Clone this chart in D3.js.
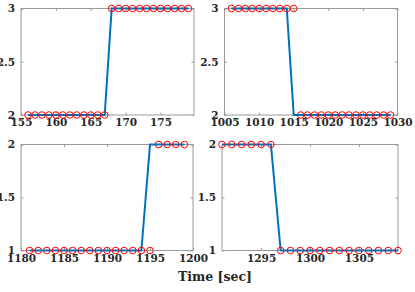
<!DOCTYPE html>
<html>
<head>
<meta charset="utf-8">
<script src="https://cdn.jsdelivr.net/npm/d3@7"></script>
<style>
  body { margin: 0; background: #fff; }
  svg { display: block; }
  .tick text { font-family: "DejaVu Serif", serif; font-weight: bold; font-size: 10.5px; fill: #262626; }
</style>
</head>
<body>
<div id="chart"></div>
<script>
// 時刻と値 (サブプロットごと)
const time1 = [156, 157, 158, 159, 160, 161, 162, 163, 164, 165, 166, 167, 168, 169, 170, 171, 172, 173, 174, 175, 176, 177, 178, 179];
const line1 = [2, 2, 2, 2, 2, 2, 2, 2, 2, 2, 2, 2, 3, 3, 3, 3, 3, 3, 3, 3, 3, 3, 3, 3];
const marks1 = [2, 2, 2, 2, 2, 2, 2, 2, 2, 2, 2, 2, 3, 3, 3, 3, 3, 3, 3, 3, 3, 3, 3, 3];

const time2 = [1006, 1007, 1008, 1009, 1010, 1011, 1012, 1013, 1014, 1015, 1016, 1017, 1018, 1019, 1020, 1021, 1022, 1023, 1024, 1025, 1026, 1027, 1028, 1029];
const line2 = [3, 3, 3, 3, 3, 3, 3, 3, 3, 2, 2, 2, 2, 2, 2, 2, 2, 2, 2, 2, 2, 2, 2, 2];
const marks2 = [3, 3, 3, 3, 3, 3, 3, 3, 3, 3, 2, 2, 2, 2, 2, 2, 2, 2, 2, 2, 2, 2, 2, 2];

const time3 = [1181, 1182, 1183, 1184, 1185, 1186, 1187, 1188, 1189, 1190, 1191, 1192, 1193, 1194, 1195, 1196, 1197, 1198, 1199];
const line3 = [1, 1, 1, 1, 1, 1, 1, 1, 1, 1, 1, 1, 1, 1, 2, 2, 2, 2, 2];
const marks3 = [1, 1, 1, 1, 1, 1, 1, 1, 1, 1, 1, 1, 1, 1, 1, 2, 2, 2, 2];

const time4 = [1291, 1292, 1293, 1294, 1295, 1296, 1297, 1298, 1299, 1300, 1301, 1302, 1303, 1304, 1305, 1306, 1307, 1308, 1309];
const line4 = [2, 2, 2, 2, 2, 2, 1, 1, 1, 1, 1, 1, 1, 1, 1, 1, 1, 1, 1];
const marks4 = [2, 2, 2, 2, 2, 2, 1, 1, 1, 1, 1, 1, 1, 1, 1, 1, 1, 1, 1];

// 軸範囲と目盛り
const xDomain1 = [155, 179.8];
const xDomain2 = [1005, 1030];
const xDomain3 = [1180, 1200];
const xDomain4 = [1291, 1309];
const xTicks1 = [155, 160, 165, 170, 175];
const xTicks2 = [1005, 1010, 1015, 1020, 1025, 1030];
const xTicks3 = [1180, 1185, 1190, 1195, 1200];
const xTicks4 = [1295, 1300, 1305];
const yTicksTop = [2, 2.5, 3];
const yTicksBottom = [1, 1.5, 2];

// svg領域設定
const svgWidth = 415;
const svgHeight = 292;
const svg = d3.select('#chart')
  .append('svg')
  .attr('width', svgWidth)
  .attr('height', svgHeight);

const panels = [
  { time: time1, line: line1, marks: marks1, xDomain: xDomain1, xTicks: xTicks1, yDomain: [2, 3], yTicks: yTicksTop,
    box: { left: 21, right: 194, top: 8.5, bottom: 115 } },
  { time: time2, line: line2, marks: marks2, xDomain: xDomain2, xTicks: xTicks2, yDomain: [2, 3], yTicks: yTicksTop,
    box: { left: 224.5, right: 397.5, top: 8.5, bottom: 115 } },
  { time: time3, line: line3, marks: marks3, xDomain: xDomain3, xTicks: xTicks3, yDomain: [1, 2], yTicks: yTicksBottom,
    box: { left: 21, right: 193, top: 144.5, bottom: 250.5 } },
  { time: time4, line: line4, marks: marks4, xDomain: xDomain4, xTicks: xTicks4, yDomain: [1, 2], yTicks: yTicksBottom,
    box: { left: 222, right: 398, top: 144.5, bottom: 250.5 } }
];

panels.forEach(p => {
  const b = p.box;
  const x = d3.scaleLinear().domain(p.xDomain).range([b.left, b.right]);
  const y = d3.scaleLinear().domain(p.yDomain).range([b.bottom, b.top]);
  const g = svg.append('g');

  // 枠
  g.append('rect')
    .attr('x', b.left).attr('y', b.top)
    .attr('width', b.right - b.left).attr('height', b.bottom - b.top)
    .attr('fill', 'none').attr('stroke', '#9a9a9a').attr('stroke-width', 1);

  // x軸 (下) と上側の目盛り
  const fmt = d => String(d);
  g.append('g')
    .attr('transform', `translate(0,${b.bottom})`)
    .call(d3.axisBottom(x).tickValues(p.xTicks).tickFormat(fmt).tickSizeInner(-2.5).tickSizeOuter(0).tickPadding(4))
    .call(s => s.select('.domain').remove())
    .call(s => s.selectAll('.tick line').attr('stroke', '#9a9a9a'));
  g.append('g')
    .attr('transform', `translate(0,${b.top})`)
    .call(d3.axisTop(x).tickValues(p.xTicks).tickFormat('').tickSizeInner(-2.5).tickSizeOuter(0))
    .call(s => s.select('.domain').remove())
    .call(s => s.selectAll('.tick line').attr('stroke', '#9a9a9a'));

  // y軸 (左) と右側の目盛り
  g.append('g')
    .attr('transform', `translate(${b.left},0)`)
    .call(d3.axisLeft(y).tickValues(p.yTicks).tickFormat(fmt).tickSizeInner(-2.5).tickSizeOuter(0).tickPadding(6))
    .call(s => s.select('.domain').remove())
    .call(s => s.selectAll('.tick line').attr('stroke', '#9a9a9a'));
  g.append('g')
    .attr('transform', `translate(${b.right},0)`)
    .call(d3.axisRight(y).tickValues(p.yTicks).tickFormat('').tickSizeInner(-2.5).tickSizeOuter(0))
    .call(s => s.select('.domain').remove())
    .call(s => s.selectAll('.tick line').attr('stroke', '#9a9a9a'));

  // 折れ線
  const lineGen = d3.line()
    .x((d, i) => x(p.time[i]))
    .y(d => y(d));
  g.append('path')
    .datum(p.line)
    .attr('d', lineGen)
    .attr('fill', 'none')
    .attr('stroke', '#0072BD')
    .attr('stroke-width', 2);

  // 赤丸
  g.selectAll('circle')
    .data(p.marks)
    .enter()
    .append('circle')
    .attr('cx', (d, i) => x(p.time[i]))
    .attr('cy', d => y(d))
    .attr('r', 3.3)
    .attr('fill', 'none')
    .attr('stroke', '#FF0000')
    .attr('stroke-width', 1);
});

// x軸ラベル
svg.append('text')
  .attr('x', 215)
  .attr('y', 281)
  .attr('text-anchor', 'middle')
  .attr('font-family', '"DejaVu Serif", serif')
  .attr('font-weight', 'bold')
  .attr('font-size', '12.5px')
  .attr('fill', '#262626')
  .text('Time [sec]');
</script>
</body>
</html>
